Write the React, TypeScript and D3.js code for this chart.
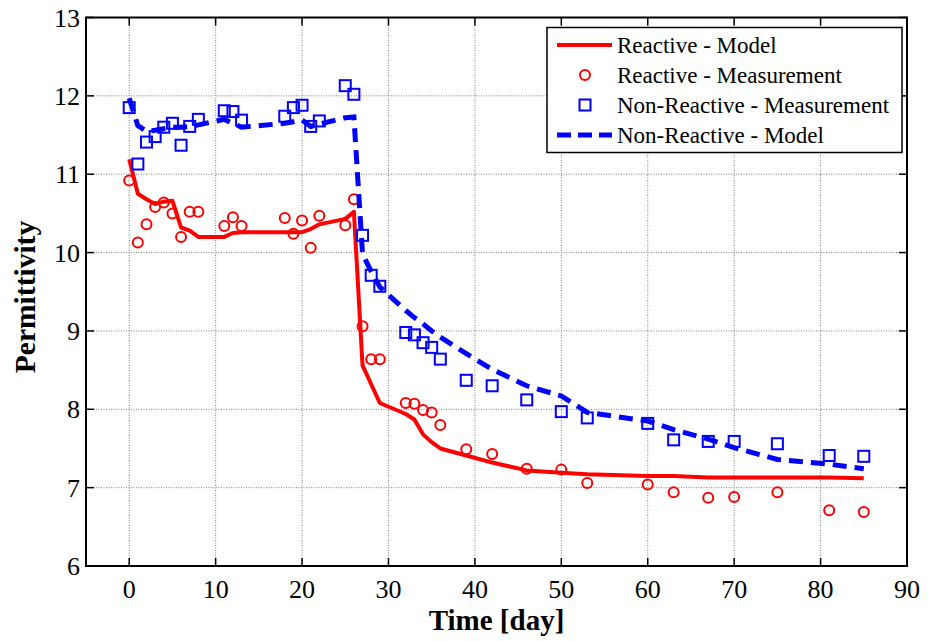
import React from "react";
import * as d3 from "d3";

// Measurement days shared by every series
const days = [0, 1, 2, 3, 4, 5, 6, 7, 8, 11, 12, 13, 18, 19, 20, 21, 22, 25, 26, 27, 28, 29, 32, 33, 34, 35, 36, 39, 42, 46, 50, 53, 60, 63, 67, 70, 75, 81, 85];

const reactiveModel = [11.19, 10.75, 10.68, 10.62, 10.65, 10.66, 10.32, 10.28, 10.2, 10.2, 10.25, 10.26, 10.26, 10.26, 10.26, 10.3, 10.36, 10.43, 10.52, 8.56, 8.32, 8.08, 7.94, 7.87, 7.68, 7.58, 7.5, 7.41, 7.32, 7.22, 7.19, 7.17, 7.15, 7.15, 7.13, 7.13, 7.13, 7.13, 7.12];

const reactiveMeas = [10.92, 10.13, 10.36, 10.58, 10.64, 10.5, 10.2, 10.52, 10.52, 10.34, 10.45, 10.34, 10.44, 10.24, 10.41, 10.06, 10.47, 10.35, 10.68, 9.06, 8.64, 8.64, 8.08, 8.07, 7.99, 7.96, 7.8, 7.49, 7.43, 7.24, 7.23, 7.06, 7.04, 6.94, 6.87, 6.88, 6.94, 6.71, 6.69];

const nonReactiveMeas = [11.85, 11.13, 11.41, 11.48, 11.6, 11.65, 11.37, 11.61, 11.7, 11.81, 11.8, 11.69, 11.74, 11.85, 11.88, 11.61, 11.68, 12.13, 12.02, 10.22, 9.71, 9.57, 8.98, 8.95, 8.85, 8.79, 8.64, 8.37, 8.3, 8.12, 7.97, 7.89, 7.82, 7.61, 7.59, 7.59, 7.56, 7.41, 7.4];

const nonReactiveModel = [11.97, 11.62, 11.55, 11.56, 11.58, 11.6, 11.6, 11.61, 11.63, 11.7, 11.65, 11.6, 11.65, 11.67, 11.69, 11.61, 11.64, 11.72, 11.73, 9.98, 9.76, 9.56, 9.26, 9.17, 9.09, 9.0, 8.92, 8.71, 8.51, 8.3, 8.17, 7.96, 7.85, 7.74, 7.62, 7.51, 7.36, 7.3, 7.24];

const xTicks = [0, 10, 20, 30, 40, 50, 60, 70, 80, 90];
const yTicks = [6, 7, 8, 9, 10, 11, 12, 13];

const legendLabels = [
  "Reactive - Model",
  "Reactive - Measurement",
  "Non-Reactive - Measurement",
  "Non-Reactive - Model",
];

const W = 931;
const H = 641;
const left = 86;
const right = 907;
const top = 17.5;
const bottom = 566;
const font = "'Liberation Serif', 'Times New Roman', serif";

export default function App() {
  const x = d3.scaleLinear().domain([-5, 90]).range([left, right]);
  const y = d3.scaleLinear().domain([6, 13]).range([bottom, top]);
  const line = d3
    .line<[number, number]>()
    .x((d) => x(d[0]))
    .y((d) => y(d[1]));

  const pts = (vals: number[]) => days.map((d, i) => [d, vals[i]] as [number, number]);
  const tick = 8;
  const red = "#ff0000";
  const blue = "#0000ff";

  const lgX = 547;
  const lgY = 27.5;
  const lgW = 355;
  const lgH = 125;
  const rowY = [45, 75, 105, 135];

  return (
    <svg
      width={W}
      height={H}
      style={{ position: "absolute", left: 0, top: 0, background: "#fff" }}
    >
      <rect x={0} y={0} width={W} height={H} fill="#fff" />
      {/* grid */}
      <g stroke="#808080" strokeWidth={1} strokeDasharray="1,1.5">
        {xTicks.map((t) => (
          <line key={"gx" + t} x1={x(t)} x2={x(t)} y1={top} y2={bottom} />
        ))}
        {yTicks.map((t) => (
          <line key={"gy" + t} x1={left} x2={right} y1={y(t)} y2={y(t)} />
        ))}
      </g>

      {/* series */}
      <path d={line(pts(reactiveModel)) ?? ""} fill="none" stroke={red} strokeWidth={4} strokeLinejoin="round" />
      {days.map((d, i) => (
        <circle key={"rm" + i} cx={x(d)} cy={y(reactiveMeas[i])} r={5} fill="none" stroke={red} strokeWidth={2} />
      ))}
      {days.map((d, i) => (
        <rect key={"nm" + i} x={x(d) - 5.5} y={y(nonReactiveMeas[i]) - 5.5} width={11} height={11} fill="none" stroke={blue} strokeWidth={2} />
      ))}
      <path d={line(pts(nonReactiveModel)) ?? ""} fill="none" stroke={blue} strokeWidth={5} strokeDasharray="14,8" />

      {/* axes box and ticks */}
      <rect x={left} y={top} width={right - left} height={bottom - top} fill="none" stroke="#000" strokeWidth={2} />
      <g stroke="#000" strokeWidth={1.5}>
        {xTicks.map((t) => (
          <g key={"tx" + t}>
            <line x1={x(t)} x2={x(t)} y1={bottom} y2={bottom - tick} />
            <line x1={x(t)} x2={x(t)} y1={top} y2={top + tick} />
          </g>
        ))}
        {yTicks.map((t) => (
          <g key={"ty" + t}>
            <line x1={left} x2={left + tick} y1={y(t)} y2={y(t)} />
            <line x1={right} x2={right - tick} y1={y(t)} y2={y(t)} />
          </g>
        ))}
      </g>
      <g fontSize={26} fill="#000" style={{ fontFamily: font }}>
        {xTicks.map((t) => (
          <text key={"lx" + t} x={x(t)} y={598} textAnchor="middle">
            {t}
          </text>
        ))}
        {yTicks.map((t) => (
          <text key={"ly" + t} x={80} y={y(t) + 9} textAnchor="end">
            {t}
          </text>
        ))}
      </g>
      <text x={(left + right) / 2} y={630} textAnchor="middle" style={{ fontFamily: font }} fontSize={29} fontWeight="bold">
        Time [day]
      </text>
      <text
        transform={`translate(35, 297) rotate(-90)`}
        textAnchor="middle"
        style={{ fontFamily: font }}
        fontSize={29.5}
        fontWeight="bold"
      >
        Permittivity
      </text>

      {/* legend */}
      <rect x={lgX} y={lgY} width={lgW} height={lgH} fill="#fff" stroke="#000" strokeWidth={1.5} />
      <line x1={557} x2={612} y1={rowY[0]} y2={rowY[0]} stroke={red} strokeWidth={4} />
      <circle cx={585} cy={rowY[1]} r={5} fill="none" stroke={red} strokeWidth={2} />
      <rect x={585 - 5.5} y={rowY[2] - 5.5} width={11} height={11} fill="none" stroke={blue} strokeWidth={2} />
      <line x1={557} x2={612} y1={rowY[3]} y2={rowY[3]} stroke={blue} strokeWidth={5} strokeDasharray="14,7" />
      <g fontSize={23} fill="#000" style={{ fontFamily: font }}>
        {legendLabels.map((l, i) => (
          <text key={l} x={617} y={rowY[i] + 8}>
            {l}
          </text>
        ))}
      </g>
    </svg>
  );
}
